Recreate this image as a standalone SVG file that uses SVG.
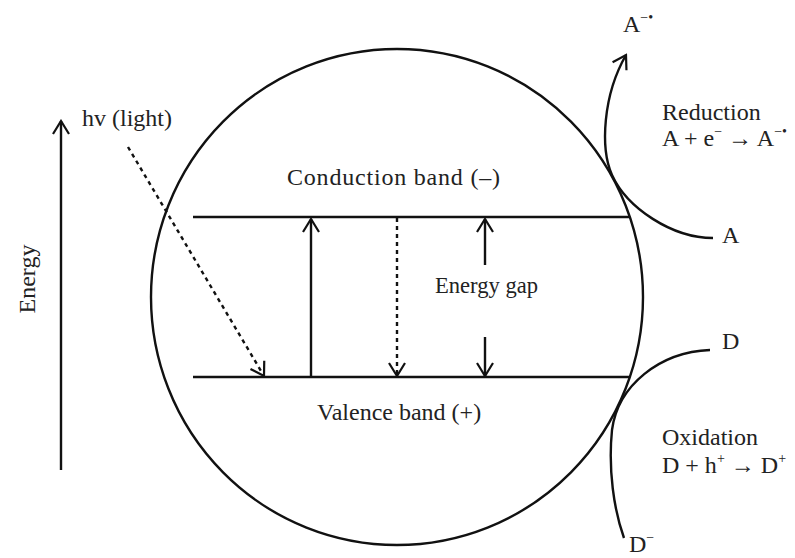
<svg xmlns="http://www.w3.org/2000/svg" width="795" height="558" viewBox="0 0 795 558">
<style>
  .t { font-family: "Liberation Serif", "Times New Roman", serif; font-size: 24px; fill: #222; }
  .sup { font-size: 14px; }
  .ln { stroke: #111; stroke-width: 2.4; fill: none; }
  .dash { stroke-dasharray: 4 4; }
</style>
<defs>
  <marker id="arr" viewBox="-16 -10 18 20" refX="0" refY="0" markerWidth="18" markerHeight="20" markerUnits="userSpaceOnUse" orient="auto">
    <path d="M -13 -8 L 0 0 L -13 8" fill="none" stroke="#111" stroke-width="2.2"/>
  </marker>
</defs>
<rect width="795" height="558" fill="#fff"/>

<g id="particle">
  <ellipse cx="397" cy="297" rx="246" ry="248" class="ln"/>
</g>

<g id="conduction-band">
  <line x1="193" y1="217" x2="630" y2="217" class="ln"/>
  <text class="t" x="287" y="185" textLength="213" lengthAdjust="spacing">Conduction band (–)</text>
</g>

<g id="valence-band">
  <line x1="193" y1="377" x2="629" y2="377" class="ln"/>
  <text class="t" x="317" y="420">Valence band (+)</text>
</g>

<g id="energy-gap">
  <text class="t" x="435" y="293" textLength="103" lengthAdjust="spacingAndGlyphs">Energy gap</text>
</g>

<g id="energy-axis">
  <text class="t" transform="translate(35,279) rotate(-90)" text-anchor="middle">Energy</text>
</g>

<g id="light">
  <text class="t" x="82" y="126">hv (light)</text>
</g>

<g id="reduction">
  <text class="t" x="623" y="32">A<tspan class="sup" dy="-10">−•</tspan></text>
  <text class="t" x="662" y="120">Reduction</text>
  <text class="t" x="662" y="146">A + e<tspan class="sup" dy="-10">−</tspan><tspan dy="10"> → A</tspan><tspan class="sup" dy="-10">−•</tspan></text>
  <text class="t" x="722" y="243">A</text>
</g>

<g id="oxidation">
  <text class="t" x="722" y="349">D</text>
  <text class="t" x="662" y="445">Oxidation</text>
  <text class="t" x="662" y="473">D + h<tspan class="sup" dy="-10">+</tspan><tspan dy="10"> → D</tspan><tspan class="sup" dy="-10">+</tspan></text>
  <text class="t" x="629" y="552">D<tspan class="sup" dy="-10">−</tspan></text>
</g>

<g id="connectors">
  <line x1="61" y1="470" x2="61" y2="121" class="ln" marker-end="url(#arr)"/>
  <line x1="128" y1="147" x2="264" y2="376" class="ln dash" marker-end="url(#arr)"/>
  <line x1="311" y1="377" x2="311" y2="219" class="ln" marker-end="url(#arr)"/>
  <line x1="397" y1="218" x2="397" y2="376" class="ln dash" marker-end="url(#arr)"/>
  <line x1="485" y1="265" x2="485" y2="219" class="ln" marker-end="url(#arr)"/>
  <line x1="485" y1="337" x2="485" y2="376" class="ln" marker-end="url(#arr)"/>
  <path d="M 713 238 C 672 238, 627 208, 612 175 C 600 148, 603 95, 626 55" class="ln" marker-end="url(#arr)"/>
  <path d="M 710 350 C 660 352, 618 385, 612 430 C 608 470, 614 510, 624 538" class="ln"/>
</g>
</svg>
